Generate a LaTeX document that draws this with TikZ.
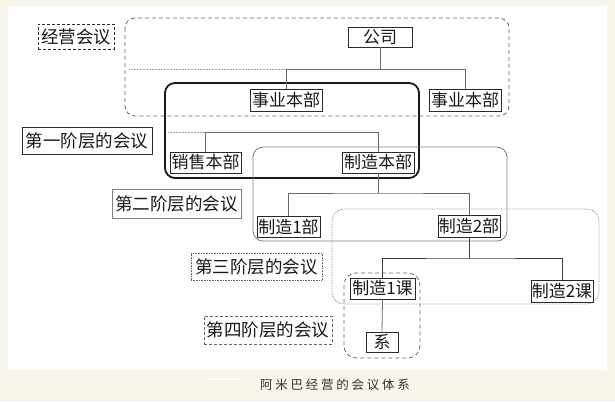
\documentclass[tikz,border=0pt]{standalone}
\usepackage{fontspec}
\newfontfamily\cjk{Noto Sans CJK SC}
\newfontfamily\capfont[LetterSpace=22]{Noto Sans CJK SC}
\definecolor{cream}{HTML}{F8F6EA}
\definecolor{lnA}{HTML}{6A6A6A}
\definecolor{lnB}{HTML}{3A3A3A}
\definecolor{bxc}{HTML}{2A2A2A}
\begin{document}
\begin{tikzpicture}[x=1pt,y=-1pt,
  dept/.style={draw=bxc, line width=0.8pt, fill=white, inner sep=0pt,
    font=\cjk\fontsize{17}{17}\selectfont, text=black!90},
  lbl/.style={draw=bxc, line width=0.8pt, fill=white, inner sep=0pt,
    font=\cjk\fontsize{17.5}{17.5}\selectfont, text=black!90},
  conn/.style={draw=lnA, line width=0.8pt},
  connd/.style={draw=lnB, line width=0.8pt},
  hint/.style={draw=black!35, line width=0.7pt, dash pattern=on 0.6pt off 0.9pt}
]
\useasboundingbox (0,0) rectangle (615,402);
\fill[cream] (0,0) rectangle (615,402);
\fill[white] (8,6) rectangle (607,370);

% meeting areas
\draw[draw=black!60, line width=0.8pt, dash pattern=on 4pt off 3pt, rounded corners=10pt] (125,18) rectangle (509,116);
\draw[draw=black!90, line width=1.8pt, rounded corners=10pt] (165,83) rectangle (419,178);
\draw[draw=black!50, line width=0.8pt, rounded corners=10pt] (253,147) rectangle (507,241);
\draw[draw=black!45, line width=0.8pt, dash pattern=on 0.7pt off 0.9pt, rounded corners=12pt] (332,209) rectangle (599,304);
\draw[draw=black!60, line width=0.8pt, dash pattern=on 4pt off 3pt, rounded corners=12pt] (344,273) rectangle (420,358);

% coordinates for junctions
\coordinate (c1) at (380,69.5);
\coordinate (d1) at (129,69.5);
\coordinate (c2) at (378,132);
\coordinate (d2) at (168,132);
\coordinate (c3) at (378,193);
\coordinate (c4) at (469,258);

% department boxes
\node[dept, minimum width=64pt, minimum height=20pt] (gs) at (380,37) {公司};
\node[dept, minimum width=72pt, minimum height=22pt] (syR) at (465,100) {事业本部};
\node[dept, minimum width=72pt, minimum height=22pt] (syL) at (286,100) {事业本部};
\node[dept, minimum width=71pt, minimum height=21pt] (xs) at (205.5,162.5) {销售本部};
\node[dept, minimum width=72pt, minimum height=21pt] (zz) at (378,162.5) {制造本部};
\node[dept, minimum width=63pt, minimum height=21pt] (z1) at (288.5,226.5) {制造1部};
\node[dept, minimum width=62pt, minimum height=22pt] (z2) at (469,226) {制造2部};
\node[dept, minimum width=65pt, minimum height=21pt] (k1) at (382.5,288.5) {制造1课};
\node[dept, minimum width=62pt, minimum height=22pt] (k2) at (562,291) {制造2课};
\node[dept, minimum width=32pt, minimum height=20pt] (xi) at (382,342) {系};

% labels
\node[lbl, dash pattern=on 3pt off 2pt, minimum width=76pt, minimum height=25pt] (L0) at (76,36.5) {经营会议};
\node[lbl, minimum width=130pt, minimum height=27pt] (L1) at (87,140.5) {第一阶层的会议};
\node[lbl, draw=black!50, minimum width=129pt, minimum height=29pt] (L2) at (176.5,203.5) {第二阶层的会议};
\node[lbl, draw=black!60, dash pattern=on 0.7pt off 0.9pt, minimum width=131pt, minimum height=27pt] (L3) at (256.5,266.5) {第三阶层的会议};
\node[lbl, draw=black!60, dash pattern=on 3pt off 2pt, minimum width=128pt, minimum height=28pt] (L4) at (268,330) {第四阶层的会议};

% connectors
\draw[hint] (d1) -- (syL.north |- c1);
\draw[conn] (gs.south) -- (c1);
\draw[conn] (syL.north) |- (c1) -| (syR.north);
\draw[hint] (d2) -- (xs.north |- c2);
\draw[conn] (xs.north) |- (c2) -- (zz.north);
\draw[conn] (zz.south) -- (c3);
\draw[conn] (z1.north) |- (c3) -| (z2.north);
\draw[connd] (z2.south) -- (c4);
\draw[connd] (k1.north) |- (c4) -| (k2.north);
\draw[conn] (k1.south) -- (xi.north);

% caption
\coordinate (w1) at (207,379);
\coordinate (w2) at (240,379);
\draw[white, line width=1.2pt] (w1) -- (w2);
\node[font=\capfont\fontsize{12.5}{12.5}\selectfont, text=black!80, inner sep=0pt] (cap) at (335,384.5) {阿米巴经营的会议体系};
\end{tikzpicture}
\end{document}
